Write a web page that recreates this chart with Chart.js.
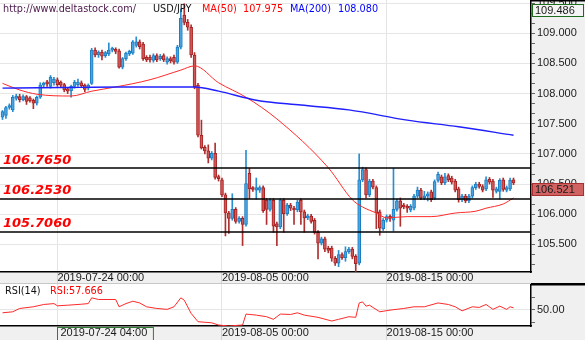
<!DOCTYPE html>
<html>
<head>
<meta charset="utf-8">
<script src="https://cdn.jsdelivr.net/npm/chart.js@4.4.0/dist/chart.umd.min.js"></script>
<style>
  html, body { margin: 0; padding: 0; background: #fff; overflow: hidden; }
  #wrap { position: relative; width: 585px; height: 340px; }
  #priceChart { position: absolute; left: 0; top: 0; }
  #rsiChart { position: absolute; left: 0; top: 284px; }
</style>
</head>
<body>
<div id="wrap">
  <canvas id="priceChart" width="585" height="284"></canvas>
  <canvas id="rsiChart" width="585" height="56"></canvas>
</div>
<script>
// USD/JPY 4H candles
const candleOpen = [
  107.61, 107.64, 107.77, 107.73, 107.92, 107.95, 107.90, 107.95, 107.93, 107.89,
  107.84, 107.94, 108.14, 108.19, 108.12, 108.18, 108.23, 108.19, 108.15, 108.08,
  108.05, 108.12, 108.15, 108.18, 108.14, 108.09, 108.17, 108.72, 108.64, 108.69,
  108.63, 108.66, 108.72, 108.73, 108.71, 108.44, 108.58, 108.66, 108.67, 108.80,
  108.86, 108.82, 108.60, 108.60, 108.55, 108.63, 108.58, 108.63, 108.52, 108.58,
  108.60, 108.52, 108.77, 109.30, 109.18, 109.10, 108.64, 108.14, 107.31, 107.11,
  107.05, 106.93, 107.01, 106.62, 106.57, 106.32, 106.02, 105.93, 106.08, 105.88,
  105.93, 105.83, 106.68, 106.43, 106.40, 106.40, 106.44, 106.23, 106.08, 106.23,
  105.84, 105.79, 106.23, 106.01, 106.15, 106.10, 106.07, 106.23, 106.04, 105.94,
  105.97, 105.90, 105.70, 105.52, 105.59, 105.42, 105.44, 105.27, 105.19, 105.33,
  105.28, 105.38, 105.42, 105.30, 105.19, 106.57, 106.74, 106.32, 106.55, 106.44,
  106.04, 105.76, 105.90, 105.96, 105.90, 106.08, 106.22, 106.15, 106.13, 106.07,
  106.10, 106.30, 106.40, 106.27, 106.30, 106.37, 106.27, 106.56, 106.62, 106.52,
  106.64, 106.60, 106.55, 106.42, 106.24, 106.30, 106.22, 106.30, 106.44, 106.50,
  106.46, 106.42, 106.58, 106.55, 106.38, 106.38, 106.57, 106.40, 106.42, 106.57
];
const candleHigh = [
  107.72, 107.79, 107.83, 107.97, 107.99, 107.99, 107.98, 107.97, 107.95, 107.91,
  107.96, 108.18, 108.19, 108.22, 108.30, 108.27, 108.26, 108.21, 108.17, 108.10,
  108.14, 108.22, 108.24, 108.21, 108.16, 108.16, 108.75, 108.76, 108.71, 108.72,
  108.70, 108.84, 108.77, 108.76, 108.74, 108.60, 108.69, 108.72, 108.88, 108.94,
  108.89, 108.85, 108.63, 108.64, 108.66, 108.66, 108.65, 108.66, 108.61, 108.61,
  108.64, 108.80, 109.40, 109.49, 109.23, 109.14, 108.68, 108.17, 107.56, 107.14,
  107.15, 107.04, 107.18, 106.65, 106.60, 106.35, 106.05, 106.34, 106.11, 105.96,
  105.96, 107.06, 106.76, 106.46, 106.60, 106.47, 106.47, 106.26, 106.26, 106.26,
  105.87, 106.26, 106.26, 106.18, 106.18, 106.13, 106.23, 106.26, 106.07, 106.00,
  106.00, 105.93, 105.73, 105.62, 105.62, 105.47, 105.47, 105.30, 105.40, 105.36,
  105.46, 105.45, 105.45, 105.33, 107.00, 106.78, 106.77, 106.58, 106.58, 106.47,
  106.07, 105.93, 105.99, 105.99, 106.76, 106.25, 106.27, 106.18, 106.16, 106.16,
  106.33, 106.45, 106.43, 106.38, 106.37, 106.40, 106.57, 106.70, 106.65, 106.68,
  106.67, 106.63, 106.58, 106.45, 106.33, 106.33, 106.33, 106.47, 106.53, 106.53,
  106.49, 106.62, 106.61, 106.58, 106.45, 106.59, 106.60, 106.47, 106.60, 106.60
];
const candleLow = [
  107.57, 107.59, 107.74, 107.70, 107.89, 107.86, 107.88, 107.82, 107.86, 107.75,
  107.81, 107.92, 108.11, 108.12, 108.09, 108.14, 108.12, 108.10, 108.03, 108.00,
  107.94, 108.09, 108.12, 108.10, 108.03, 108.06, 108.15, 108.61, 108.60, 108.56,
  108.60, 108.63, 108.69, 108.66, 108.42, 108.41, 108.55, 108.63, 108.65, 108.77,
  108.74, 108.55, 108.53, 108.52, 108.52, 108.53, 108.55, 108.53, 108.49, 108.51,
  108.49, 108.50, 108.74, 109.14, 109.05, 108.60, 108.08, 107.28, 107.08, 107.00,
  106.85, 106.90, 106.58, 106.55, 106.29, 105.64, 105.68, 105.90, 105.85, 105.85,
  105.48, 105.80, 106.26, 106.38, 106.25, 106.36, 106.03, 105.83, 106.05, 105.70,
  105.48, 105.76, 105.70, 105.98, 106.06, 105.83, 106.04, 105.83, 105.70, 105.91,
  105.85, 105.67, 105.26, 105.49, 105.38, 105.36, 105.22, 105.15, 105.13, 105.25,
  105.22, 105.35, 105.26, 105.05, 105.16, 106.54, 106.27, 106.29, 106.42, 105.76,
  105.65, 105.73, 105.87, 105.88, 105.72, 106.05, 105.80, 106.09, 106.03, 106.04,
  106.07, 106.27, 106.24, 106.24, 106.22, 106.21, 106.24, 106.53, 106.49, 106.49,
  106.54, 106.50, 106.37, 106.20, 106.21, 106.19, 106.19, 106.27, 106.41, 106.43,
  106.37, 106.39, 106.50, 106.28, 106.35, 106.25, 106.38, 106.37, 106.39, 106.49
];
const candleClose = [
  107.70, 107.77, 107.80, 107.94, 107.96, 107.90, 107.95, 107.87, 107.88, 107.84,
  107.94, 108.14, 108.17, 108.16, 108.27, 108.24, 108.15, 108.14, 108.06, 108.04,
  108.12, 108.19, 108.19, 108.13, 108.07, 108.14, 108.72, 108.64, 108.69, 108.62,
  108.68, 108.72, 108.74, 108.70, 108.44, 108.58, 108.67, 108.70, 108.86, 108.86,
  108.78, 108.58, 108.56, 108.56, 108.63, 108.56, 108.62, 108.56, 108.58, 108.54,
  108.52, 108.77, 109.25, 109.18, 109.10, 108.64, 108.11, 107.31, 107.10, 107.05,
  106.93, 107.01, 106.61, 106.59, 106.32, 106.02, 105.93, 106.08, 105.88, 105.93,
  105.83, 106.51, 106.42, 106.41, 106.44, 106.44, 106.06, 106.08, 106.23, 105.80,
  105.79, 106.23, 106.01, 106.15, 106.10, 106.07, 106.20, 106.04, 105.94, 105.97,
  105.88, 105.70, 105.52, 105.59, 105.42, 105.40, 105.27, 105.19, 105.33, 105.28,
  105.38, 105.42, 105.30, 105.18, 106.57, 106.74, 106.32, 106.55, 106.45, 106.02,
  105.77, 105.90, 105.96, 105.93, 106.08, 106.22, 106.10, 106.12, 106.10, 106.13,
  106.30, 106.40, 106.27, 106.30, 106.34, 106.24, 106.54, 106.66, 106.52, 106.62,
  106.57, 106.53, 106.40, 106.24, 106.30, 106.22, 106.30, 106.44, 106.50, 106.46,
  106.40, 106.57, 106.53, 106.40, 106.42, 106.56, 106.41, 106.44, 106.56, 106.52
];

// moving averages, read at a few candles
const ma50Idx = [0, 5, 10, 20, 26, 33, 43, 52, 56, 63, 71, 80, 95, 102, 105, 109, 112, 118, 125, 132, 138, 141, 146, 149];
const ma50Val = [108.17, 108.06, 107.99, 107.96, 108.04, 108.11, 108.23, 108.39, 108.46, 108.18, 107.94, 107.58, 106.77, 106.24, 106.12, 106.02, 105.94, 105.96, 105.96, 106.02, 106.05, 106.10, 106.17, 106.27];
const ma200Idx = [0, 17, 34, 56, 63, 74, 87, 101, 118, 133, 149];
const ma200Val = [108.09, 108.10, 108.11, 108.11, 108.04, 107.89, 107.81, 107.73, 107.56, 107.45, 107.31];

// RSI(14)
const rsiIdx = [0, 3, 5, 9, 12, 15, 16, 19, 23, 25, 26, 28, 33, 34, 36, 38, 40, 42, 45, 48, 50, 52, 53, 55, 57, 61, 63, 66, 67, 70,
  71, 74, 77, 79, 81, 84, 86, 88, 92, 96, 98, 101, 103, 104, 105, 106, 107, 110, 113, 117, 120, 123, 127, 130, 132, 134, 137, 139, 141, 143,
  145, 147, 148, 149];
const rsiVal = [45.6, 47.2, 52.4, 55.0, 58.6, 60.0, 56.5, 57.5, 59.0, 60.0, 69.0, 66.4, 66.4, 55.0, 60.0, 63.7, 61.0, 55.0, 52.4, 51.0,
  55.0, 69.0, 65.3, 44.7, 31.7, 30.0, 26.5, 25.0, 25.5, 26.5, 43.6, 42.0, 39.5, 35.4, 43.6, 43.0, 45.6, 42.0, 38.5, 32.8,
  35.4, 39.5, 38.5, 61.0, 62.6, 56.0, 57.5, 47.2, 49.8, 52.4, 55.0, 55.0, 61.0, 58.6, 55.0, 48.7, 55.0, 54.0, 58.6, 51.0,
  56.0, 51.0, 55.0, 53.4];

const dateTicks = [16, 64, 112];
const priceDateLabels = ['2019-07-24 00:00', '2019-08-05 00:00', '2019-08-15 00:00'];
const rsiDateLabels = [' 2019-07-24 04:00', '2019-08-05 00:00', '2019-08-15 00:00'];
const rsiTicks = [30, 50, 70];

const levels = [106.765, 106.253, 105.706];
const levelLabels = ['106.7650', '106.2530', '105.7060'];
const highMark = 109.486;
const lastPrice = 106.521;
const ma50Text = '107.975';
const ma200Text = '108.080';
const rsiText = 'RSI:57.666';

const X_MIN = -0.73, X_MAX = 154.1;
const AXIS_W = 54;
const GRAY = '#f0f0f0';
const headFont = '9.7px "DejaVu Sans"';
const tickFont = { family: 'Liberation Sans', size: 11 };

const bull = candleClose.map((c, i) => c >= candleOpen[i]);
const wickData = candleHigh.map((h, i) => ({ x: i, y: [candleLow[i], h] }));
const bodyData = candleOpen.map((o, i) => ({ x: i, y: [o, candleClose[i]] }));

function isHalf(v) { return Math.abs(v * 2 - Math.round(v * 2)) < 1e-6; }
function noPad(scale) { scale.paddingTop = 0; scale.paddingBottom = 0; scale.paddingLeft = 0; scale.paddingRight = 0; }

const backdrop = {
  id: 'backdrop',
  beforeDraw(chart) {
    const { ctx, chartArea: a, width, height } = chart;
    ctx.save();
    ctx.fillStyle = '#fff';
    ctx.fillRect(0, 0, width, height);
    ctx.fillStyle = GRAY;
    ctx.fillRect(0, a.bottom, a.right, height - a.bottom);
    ctx.fillRect(a.right, 0, width - a.right, height);
    ctx.restore();
  }
};

const levelLines = {
  id: 'levelLines',
  afterDatasetsDraw(chart) {
    const { ctx, chartArea: a, scales: { y } } = chart;
    ctx.save();
    ctx.strokeStyle = '#000';
    ctx.lineWidth = 1.5;
    ctx.font = 'italic bold 13px "DejaVu Sans"';
    ctx.fillStyle = '#ff0000';
    ctx.textBaseline = 'alphabetic';
    levels.forEach((lv, k) => {
      const py = y.getPixelForValue(lv);
      ctx.beginPath();
      ctx.moveTo(a.left, py);
      ctx.lineTo(a.right, py);
      ctx.stroke();
      ctx.fillText(levelLabels[k], 3, py - 4.5);
    });
    ctx.restore();
  }
};

function priceBox(ctx, x, top, w, text, fill, stroke) {
  ctx.fillStyle = fill;
  ctx.fillRect(x, top, w, 13);
  ctx.strokeStyle = stroke;
  ctx.lineWidth = 1;
  ctx.strokeRect(x + 0.5, top + 0.5, w - 1, 12);
  ctx.fillStyle = '#1a1a1a';
  ctx.font = '11px "Liberation Sans"';
  ctx.textBaseline = 'middle';
  ctx.fillText(text, x + 3, top + 7);
}

const priceOverlay = {
  id: 'priceOverlay',
  afterDraw(chart) {
    const { ctx, chartArea: a, width, height, scales: { y } } = chart;
    ctx.save();
    // header
    ctx.font = headFont;
    ctx.textBaseline = 'alphabetic';
    const head = [
      ['http://www.deltastock.com/', 3, '#4a154a'],
      ['USD/JPY', 153, '#111'],
      ['MA(50)', 202, '#ff0000'],
      [ma50Text, 243, '#ff0000'],
      ['MA(200)', 290, '#0000ff'],
      [ma200Text, 338, '#0000ff']
    ];
    head.forEach(([t, x, c]) => { ctx.fillStyle = c; ctx.fillText(t, x, 12); });
    // axis top border
    ctx.fillStyle = '#000';
    ctx.fillRect(a.right, 0, width - a.right, 1.5);
    ctx.fillRect(a.right, height - 1, width - a.right, 1);
    ctx.fillStyle = '#c8c8c8';
    ctx.fillRect(0, height - 1, a.right, 1);
    // price boxes
    priceBox(ctx, a.right + 1, Math.round(y.getPixelForValue(highMark)), width - a.right - 2, highMark.toFixed(3), '#f4f4f4', '#1d6b1d');
    priceBox(ctx, a.right + 1, Math.round(y.getPixelForValue(lastPrice)), width - a.right - 2, lastPrice.toFixed(3), '#d06262', '#a83030');
    ctx.restore();
  }
};

new Chart(document.getElementById('priceChart'), {
  type: 'bar',
  data: {
    datasets: [
      {
        type: 'line', label: 'MA(50)', order: 1,
        data: ma50Idx.map((v, k) => ({ x: v, y: ma50Val[k] })),
        borderColor: '#ff2a2a', borderWidth: 1, pointRadius: 0, tension: 0.4, cubicInterpolationMode: 'monotone'
      },
      {
        type: 'line', label: 'MA(200)', order: 0,
        data: ma200Idx.map((v, k) => ({ x: v, y: ma200Val[k] })),
        borderColor: '#1f1fff', borderWidth: 1.4, pointRadius: 0, tension: 0.4, cubicInterpolationMode: 'monotone'
      },
      {
        label: 'body', order: 2, data: bodyData, grouped: false,
        barThickness: 3, minBarLength: 2, borderWidth: 1, borderSkipped: false,
        backgroundColor: bull.map(b => b ? '#4ba4e0' : '#d05858'),
        borderColor: bull.map(b => b ? '#1b7dc2' : '#a82020')
      },
      {
        label: 'wick', order: 3, data: wickData, grouped: false,
        barThickness: 1, borderWidth: 0,
        backgroundColor: bull.map(b => b ? '#2a8fd0' : '#b03030')
      }
    ]
  },
  options: {
    responsive: false,
    animation: false,
    layout: { padding: 0 },
    plugins: { legend: { display: false }, tooltip: { enabled: false } },
    scales: {
      x: {
        type: 'linear', min: X_MIN, max: X_MAX, offset: false,
        afterBuildTicks: s => { s.ticks = dateTicks.map(v => ({ value: v })); },
        afterFit: s => { s.height = 12; noPad(s); },
        ticks: {
          autoSkip: false, maxRotation: 0, align: 'start', padding: -12.6,
          font: tickFont, color: '#1a1a1a',
          callback: (v, i) => priceDateLabels[i]
        },
        grid: { color: '#e4e4e4', tickLength: 12, tickColor: '#d2d2d2', offset: false },
        border: { color: '#000', width: 1.5 }
      },
      y: {
        position: 'right', min: 105.042, max: 109.552,
        afterBuildTicks: s => {
          const t = [];
          for (let k = Math.ceil(s.min * 6); k <= Math.floor(s.max * 6); k++) t.push({ value: k / 6 });
          s.ticks = t;
        },
        afterFit: s => { s.width = AXIS_W; noPad(s); },
        ticks: {
          padding: 2, font: tickFont, color: '#1a1a1a', autoSkip: false,
          callback: v => isHalf(v) ? v.toFixed(3) : ''
        },
        grid: {
          color: c => isHalf(c.tick.value) ? '#e6e6e6' : 'rgba(0,0,0,0)',
          tickLength: 4, tickColor: '#666'
        },
        border: { color: '#000', width: 1.5 }
      }
    }
  },
  plugins: [backdrop, levelLines, priceOverlay]
});

const rsiOverlay = {
  id: 'rsiOverlay',
  afterDraw(chart) {
    const { ctx, chartArea: a, width, scales: { x } } = chart;
    ctx.save();
    ctx.font = headFont;
    ctx.textBaseline = 'alphabetic';
    ctx.fillStyle = '#111';
    ctx.fillText('RSI(14)', 5, 10);
    ctx.fillStyle = '#ff0000';
    ctx.fillText(rsiText, 50, 10);
    ctx.fillStyle = '#000';
    ctx.fillRect(a.right, 0, width - a.right, 1.5);
    // crosshair time box
    ctx.font = '11px "Liberation Sans"';
    const px = Math.round(x.getPixelForValue(dateTicks[0]));
    const w = ctx.measureText(rsiDateLabels[0]).width + 6;
    ctx.strokeStyle = '#2e7d32';
    ctx.lineWidth = 1;
    ctx.strokeRect(px + 0.5, a.bottom + 1.5, w, 13);
    ctx.restore();
  }
};

new Chart(document.getElementById('rsiChart'), {
  type: 'line',
  data: {
    datasets: [{
      label: 'RSI(14)',
      data: rsiIdx.map((v, k) => ({ x: v, y: rsiVal[k] })),
      borderColor: '#ff2a2a', borderWidth: 1, pointRadius: 0, tension: 0
    }]
  },
  options: {
    responsive: false,
    animation: false,
    layout: { padding: 0 },
    plugins: { legend: { display: false }, tooltip: { enabled: false } },
    scales: {
      x: {
        type: 'linear', min: X_MIN, max: X_MAX, offset: false,
        afterBuildTicks: s => { s.ticks = dateTicks.map(v => ({ value: v })); },
        afterFit: s => { s.height = 14; noPad(s); },
        ticks: {
          autoSkip: false, maxRotation: 0, align: 'start', padding: -13.9,
          font: tickFont, color: '#1a1a1a',
          callback: (v, i) => rsiDateLabels[i]
        },
        grid: { color: '#e4e4e4', tickLength: 14, tickColor: '#d2d2d2' },
        border: { color: '#000', width: 1.5 }
      },
      y: {
        position: 'right', min: 25, max: 90.6,
        afterBuildTicks: s => { s.ticks = rsiTicks.map(v => ({ value: v })); },
        afterFit: s => { s.width = AXIS_W; noPad(s); },
        ticks: {
          padding: 2, font: tickFont, color: '#1a1a1a', autoSkip: false,
          callback: v => v === 50 ? v.toFixed(2) : ''
        },
        grid: {
          color: c => c.tick.value === 50 ? '#e6e6e6' : 'rgba(0,0,0,0)',
          tickLength: 4, tickColor: '#666'
        },
        border: { color: '#000', width: 1.5 }
      }
    }
  },
  plugins: [backdrop, rsiOverlay]
});
</script>
</body>
</html>
